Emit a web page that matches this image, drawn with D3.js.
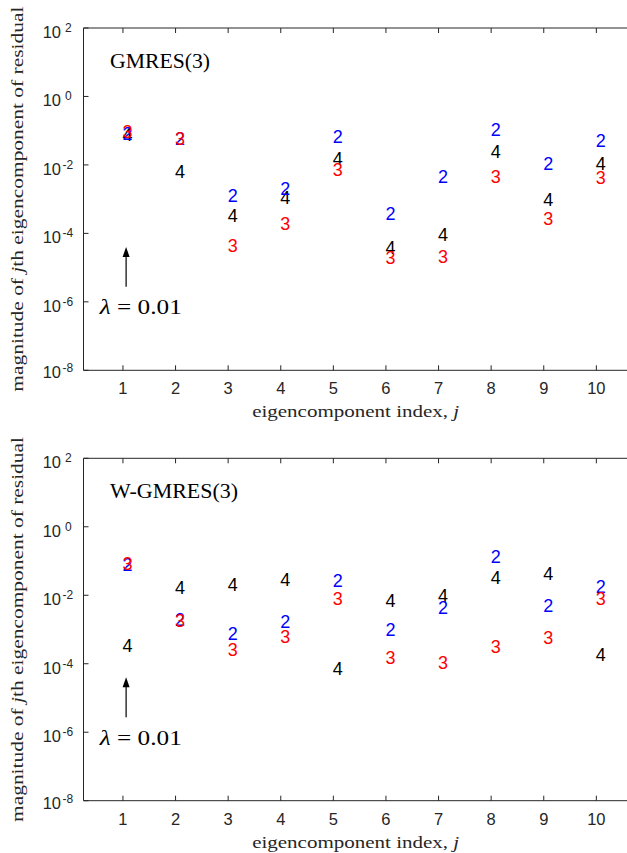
<!DOCTYPE html>
<html><head><meta charset="utf-8">
<script src="https://cdn.jsdelivr.net/npm/d3@7"></script>
<style>html,body{margin:0;padding:0;background:#fff;}svg{display:block;}</style>
</head><body>
<script>
// ---- data ----
const indices = [1,2,3,4,5,6,7,8,9,10];
const yTickExps = [2,0,-2,-4,-6,-8];
const xTickLabels = ["1","2","3","4","5","6","7","8","9","10"];
const panelTitles = ["GMRES(3)","W-GMRES(3)"];
// GMRES(3): residual component magnitudes after cycles 2,3,4
const gmres2 = [0.083,0.0575,1.32e-3,2.09e-3,0.069,3.8e-4,4.7e-3,0.11,0.011,0.050];
const gmres3 = [0.093,0.060,4.3e-5,2.0e-4,7.1e-3,2.0e-5,2.1e-5,4.7e-3,2.75e-4,4.2e-3];
const gmres4 = [0.076,6.3e-3,3.4e-4,1.15e-3,0.0155,3.8e-5,9.3e-5,0.024,9.8e-4,0.011];
// W-GMRES(3)
const wgmres2 = [0.081,1.95e-3,7.6e-4,1.66e-3,0.0275,1.02e-3,4.3e-3,0.132,5.1e-3,0.0178];
const wgmres3 = [0.085,1.86e-3,2.6e-4,6.3e-4,7.8e-3,1.48e-4,1.07e-4,3.2e-4,6.0e-4,8.1e-3];
const wgmres4 = [3.5e-4,0.0166,0.021,0.029,7.2e-5,6.9e-3,0.010,0.032,0.044,1.86e-4];
// annotation: arrow from/to and label
const arrowX = 1.06, arrowFrom = 2.75e-6, arrowTo = 4.0e-5;
const lambdaLabel = "λ = 0.01", lambdaX = 0.56, lambdaY = 6.9e-7;
const seriesLabels = ["2","3","4"];
const seriesColors = ["#0000ff","#ff0000","#000000"];

const W = 627, H = 853;
const svg = d3.select("body").append("svg").attr("width",W).attr("height",H);
const axisColor = "#262626";
const sans = "'Liberation Sans', Arial, sans-serif";
const serif = "'Liberation Serif', 'DejaVu Serif', serif";

const x = d3.scaleLinear().domain([0.25,10.75]).range([83.5,635.8]);

function panel(top, bottom, title, s2, s3, s4) {
  const y = d3.scaleLog().domain([1e-8,1e2]).range([bottom, top]);
  const g = svg.append("g");
  // frame
  g.append("line").attr("x1",x(0.25)).attr("x2",W+5).attr("y1",top).attr("y2",top)
    .attr("stroke",axisColor).attr("stroke-width",1);
  g.append("line").attr("x1",x(0.25)).attr("x2",W+5).attr("y1",bottom).attr("y2",bottom)
    .attr("stroke",axisColor).attr("stroke-width",1);
  g.append("line").attr("x1",x(0.25)).attr("x2",x(0.25)).attr("y1",top).attr("y2",bottom)
    .attr("stroke",axisColor).attr("stroke-width",1);
  // x ticks (inward, top & bottom)
  indices.forEach((d,i)=>{
    g.append("line").attr("x1",x(d)).attr("x2",x(d)).attr("y1",bottom).attr("y2",bottom-5)
      .attr("stroke",axisColor);
    g.append("line").attr("x1",x(d)).attr("x2",x(d)).attr("y1",top).attr("y2",top+5)
      .attr("stroke",axisColor);
    g.append("text").attr("x",x(d)).attr("y",bottom+24).attr("text-anchor","middle")
      .attr("font-family",sans).attr("font-size",16.5).attr("fill",axisColor).text(xTickLabels[i]);
  });
  // y ticks
  yTickExps.forEach(e=>{
    const yy = y(Math.pow(10,e));
    g.append("line").attr("x1",x(0.25)).attr("x2",x(0.25)+5).attr("y1",yy).attr("y2",yy)
      .attr("stroke",axisColor);
    const off = e===-8 ? -2 : 0;
    g.append("text").attr("x",61).attr("y",yy+10+off).attr("text-anchor","end")
      .attr("font-family",sans).attr("font-size",16.5).attr("fill",axisColor).text("10");
    g.append("text").attr("x", e<0 ? 62.5 : 65).attr("y",yy+4+off)
      .attr("font-family",sans).attr("font-size",12).attr("fill",axisColor)
      .text(e<0 ? "-"+(-e) : String(e));
  });
  // axis labels
  g.append("text").attr("x",(x(0.25)+x(10.75))/2-4).attr("y",bottom+47)
    .attr("text-anchor","middle").attr("font-family",serif).attr("font-size",17)
    .attr("fill",axisColor).attr("textLength",207).attr("lengthAdjust","spacingAndGlyphs")
    .html('eigencomponent index, <tspan font-style="italic">j</tspan>');
  g.append("text").attr("transform",`translate(23,${(top+bottom)/2}) rotate(-90)`)
    .attr("text-anchor","middle").attr("font-family",serif).attr("font-size",17)
    .attr("fill",axisColor).attr("textLength",385).attr("lengthAdjust","spacingAndGlyphs")
    .html('magnitude of <tspan font-style="italic">j</tspan>th eigencomponent of residual');
  // title
  g.append("text").attr("x",110).attr("y",top+40).attr("font-family",serif).attr("font-size",20)
    .attr("fill","#000").attr("textLength", title.length>8 ? 128 : 100)
    .attr("lengthAdjust","spacingAndGlyphs").text(title);
  // series markers (text)
  const order = [[s4,2],[s2,0],[s3,1]];
  order.forEach(([arr,k])=>{
    g.selectAll(null).data(arr).enter().append("text")
      .attr("x",(d,i)=>x(indices[i])-0.5).attr("y",d=>y(d)).attr("dy","0.36em")
      .attr("font-family",sans).attr("font-size",18).attr("fill",seriesColors[k])
      .text(seriesLabels[k]);
  });
  // arrow
  const ax = x(arrowX), y0 = y(arrowFrom), y1 = y(arrowTo);
  g.append("line").attr("x1",ax).attr("x2",ax).attr("y1",y0).attr("y2",y1+8)
    .attr("stroke","#000").attr("stroke-width",1.2);
  g.append("path").attr("d",`M${ax},${y1} L${ax-3.5},${y1+10} L${ax+3.5},${y1+10} Z`).attr("fill","#000");
  g.append("text").attr("x",x(lambdaX)).attr("y",y(lambdaY)).attr("dy","0.34em")
    .attr("font-family",serif).attr("font-size",20).attr("fill","#000")
    .attr("textLength",82).attr("lengthAdjust","spacingAndGlyphs")
    .html('<tspan font-style="italic">λ</tspan> = 0.01');
}

panel(28, 370.3, panelTitles[0], gmres2, gmres3, gmres4);
panel(458.3, 800.7, panelTitles[1], wgmres2, wgmres3, wgmres4);
</script>
</body></html>
